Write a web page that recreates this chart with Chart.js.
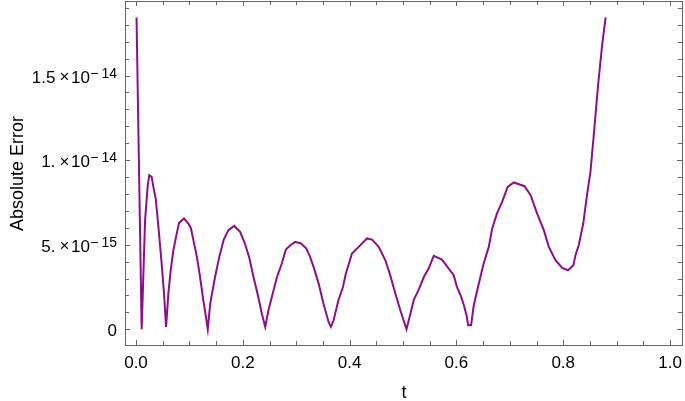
<!DOCTYPE html>
<html>
<head>
<meta charset="utf-8">
<script src="https://cdn.jsdelivr.net/npm/chart.js@4"></script>
<style>
  html, body { margin: 0; padding: 0; background: #fff; }
  #wrap { width: 685px; height: 401px; }
</style>
</head>
<body>
<div id="wrap"><canvas id="myChart" width="685" height="401"></canvas></div>
<script>
// t values along the x axis
const tValues = [
  0.001, 0.0106, 0.017, 0.022, 0.025, 0.0294, 0.0325, 0.0369, 0.042, 0.048,
  0.0525, 0.0563, 0.0606, 0.065, 0.070, 0.075, 0.0806, 0.090, 0.098, 0.103,
  0.1075, 0.114, 0.12, 0.126, 0.131, 0.1344, 0.139, 0.148, 0.156, 0.164,
  0.173, 0.184, 0.195, 0.204, 0.2125, 0.22, 0.2275, 0.2356, 0.242, 0.248,
  0.256, 0.264, 0.273, 0.2806, 0.289, 0.298, 0.309, 0.319, 0.326, 0.3325,
  0.342, 0.351, 0.3606, 0.365, 0.37, 0.379, 0.3875, 0.393, 0.4044, 0.417,
  0.4325, 0.442, 0.4544, 0.467, 0.476, 0.4856, 0.495, 0.5065, 0.514, 0.52,
  0.529, 0.539, 0.548, 0.5575, 0.573, 0.5856, 0.595, 0.601, 0.609, 0.614,
  0.619, 0.622, 0.6275, 0.6325, 0.642, 0.651, 0.6606, 0.667, 0.676, 0.6856,
  0.696, 0.7075, 0.7275, 0.739, 0.751, 0.7637, 0.773, 0.7856, 0.798, 0.809,
  0.819, 0.823, 0.829, 0.8375, 0.845, 0.851, 0.8575, 0.865, 0.8725, 0.8794
];

// absolute error, in units of 1e-15
const errValues = [
  18.44, 0, 6.45, 8.52, 9.11, 9.0, 8.42, 7.73, 6.05, 3.89,
  2.11, 0.14, 2.11, 3.49, 4.67, 5.46, 6.29, 6.55, 6.25, 5.96,
  5.27, 4.28, 3.09, 1.72, 0.73, 0, 1.52, 3.09, 4.28, 5.27,
  5.86, 6.11, 5.76, 5.07, 4.18, 3.09, 2.11, 0.93, 0.14, 1.12,
  2.11, 3.09, 3.89, 4.71, 4.97, 5.17, 5.07, 4.77, 4.28, 3.69,
  2.70, 1.52, 0.43, 0.14, 0.53, 1.72, 2.50, 3.29, 4.48, 4.87,
  5.37, 5.3, 4.87, 4.08, 3.20, 2.11, 1.12, 0, 0.93, 1.72,
  2.31, 3.09, 3.59, 4.34, 4.12, 3.59, 3.20, 2.50, 1.91, 1.42,
  0.82, 0.24, 0.24, 1.42, 2.70, 3.89, 4.87, 5.96, 6.85, 7.53,
  8.42, 8.68, 8.46, 7.93, 6.85, 5.86, 4.87, 4.08, 3.63, 3.49,
  3.79, 4.38, 4.97, 6.25, 8.03, 9.31, 11.58, 14.34, 16.70, 18.44
];

// tick positions and labels
const xTicks = [0, 0.2, 0.4, 0.6, 0.8, 1.0];
const xTickLabels = ['0.0', '0.2', '0.4', '0.6', '0.8', '1.0'];
const xMinorStep = 0.05;
const yTicks = [0, 5, 10, 15];
const yTickMantissa = ['0', '5.', '1.', '1.5'];
const yTickExponent = ['', '15', '14', '14'];
const yMinorStep = 1;

const frameColor = '#666666';
const lineColor = '#8a0f8a';
const FONT = '"Liberation Sans", Arial, sans-serif';

// frame with inward ticks on all four sides, labels and axis titles
const framePlugin = {
  id: 'frame',
  afterDraw(chart) {
    const ctx = chart.ctx;
    const a = chart.chartArea;
    const xs = chart.scales.x;
    const ys = chart.scales.y;
    ctx.save();
    ctx.strokeStyle = frameColor;
    ctx.lineWidth = 1;
    ctx.strokeRect(Math.round(a.left) + 0.5, Math.round(a.top) + 0.5,
      Math.round(a.right - a.left) - 1, Math.round(a.bottom - a.top) - 1);

    ctx.beginPath();
    // x ticks (bottom and top)
    for (let i = 0; i <= 20; i++) {
      const v = i * xMinorStep;
      const px = Math.round(xs.getPixelForValue(v)) + 0.5;
      const len = i % 4 === 0 ? 5 : 4;
      ctx.moveTo(px, a.bottom - 1);
      ctx.lineTo(px, a.bottom - 1 - len);
      ctx.moveTo(px, a.top);
      ctx.lineTo(px, a.top + len);
    }
    // y ticks (left and right)
    for (let i = 0; i <= 19; i++) {
      const v = i * yMinorStep;
      const py = Math.round(ys.getPixelForValue(v)) + 0.5;
      const len = i % 5 === 0 ? 5 : 4;
      ctx.moveTo(a.left, py);
      ctx.lineTo(a.left + len, py);
      ctx.moveTo(a.right - 1, py);
      ctx.lineTo(a.right - 1 - len, py);
    }
    ctx.stroke();

    // x tick labels
    ctx.fillStyle = '#000';
    ctx.font = '17px ' + FONT;
    ctx.textAlign = 'center';
    ctx.textBaseline = 'alphabetic';
    xTicks.forEach((v, i) => {
      ctx.fillText(xTickLabels[i], xs.getPixelForValue(v), 368);
    });

    // y tick labels, mantissa x 10^exponent
    yTicks.forEach((v, i) => {
      const py = ys.getPixelForValue(v);
      const R = a.left - 8;
      const base = py + 7;
      ctx.textAlign = 'right';
      if (!yTickExponent[i]) {
        ctx.font = '17px ' + FONT;
        ctx.fillText(yTickMantissa[i], R, base);
        return;
      }
      ctx.font = '14px ' + FONT;
      ctx.fillText(yTickExponent[i], R, base - 5);
      ctx.fillText('\u2212', R - 18.5, base - 5);
      ctx.font = '17px ' + FONT;
      ctx.fillText('10', R - 27, base);
      ctx.textAlign = 'center';
      ctx.fillText('\u00d7', R - 52.5, base - 0.5);
      ctx.textAlign = 'right';
      ctx.fillText(yTickMantissa[i], R - 61.5, base);
    });

    // axis titles
    ctx.font = '18px ' + FONT;
    ctx.textAlign = 'center';
    ctx.fillText('t', (a.left + a.right) / 2, 398);
    ctx.save();
    ctx.translate(23, (a.top + a.bottom) / 2);
    ctx.rotate(-Math.PI / 2);
    ctx.fillText('Absolute Error', 0, 0);
    ctx.restore();
    ctx.restore();
  }
};

const points = tValues.map((t, i) => ({ x: t, y: errValues[i] }));

new Chart(document.getElementById('myChart').getContext('2d'), {
  type: 'line',
  data: {
    datasets: [{
      data: points,
      borderColor: lineColor,
      borderWidth: 2,
      pointRadius: 0,
      tension: 0,
      fill: false
    }]
  },
  options: {
    responsive: false,
    animation: false,
    events: [],
    layout: { padding: { left: 125, right: 2, top: 1, bottom: 55 } },
    scales: {
      x: { type: 'linear', display: false, min: -0.0206, max: 1.0243 },
      y: { type: 'linear', display: false, min: -0.99, max: 19.41 }
    },
    plugins: {
      legend: { display: false },
      tooltip: { enabled: false }
    }
  },
  plugins: [framePlugin]
});
</script>
</body>
</html>
